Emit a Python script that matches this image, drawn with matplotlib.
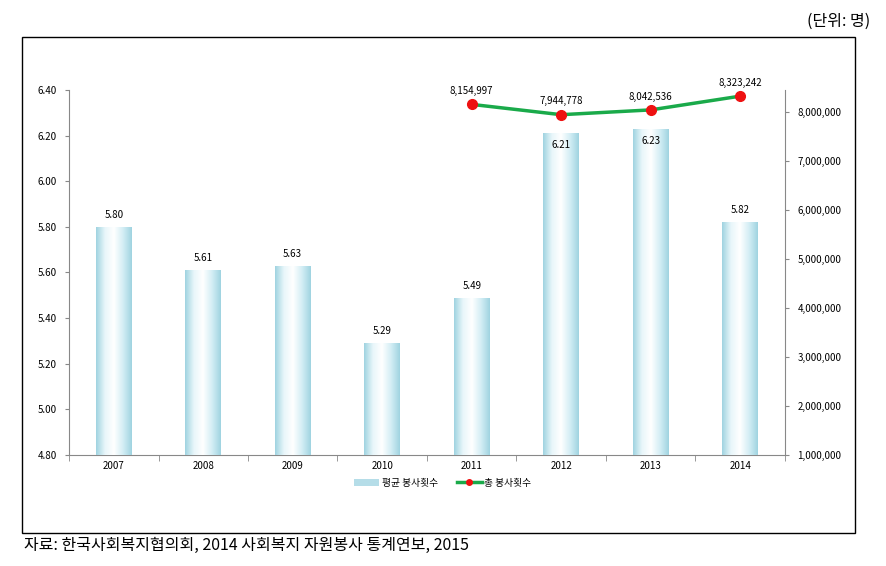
import numpy as np
import matplotlib.pyplot as plt
from matplotlib.patches import Rectangle
from matplotlib.lines import Line2D
from matplotlib.colors import LinearSegmentedColormap

plt.rcParams['font.family'] = ['Noto Sans CJK KR', 'DejaVu Sans']

years = ['2007', '2008', '2009', '2010', '2011', '2012', '2013', '2014']
avg_counts = [5.80, 5.61, 5.63, 5.29, 5.49, 6.21, 6.23, 5.82]
line_years = ['2011', '2012', '2013', '2014']
total_counts = [8154997, 7944778, 8042536, 8323242]

fig = plt.figure(figsize=(8.86, 5.66), dpi=100)

# outer frame
fig.patches.append(Rectangle((0.0248, 0.0583), 0.94, 0.876, transform=fig.transFigure,
                             fill=False, edgecolor='black', linewidth=1.0))
fig.text(0.982, 0.962, '(단위: 명)', ha='right', va='center', fontsize=11.5)
fig.text(0.027, 0.037, '자료: 한국사회복지협의회, 2014 사회복지 자원봉사 통계연보, 2015',
         ha='left', va='center', fontsize=11.5)

ax = fig.add_axes([0.0779, 0.1961, 0.808, 0.645])
x = np.arange(len(years))
bars = ax.bar(x, [v - 4.8 for v in avg_counts], bottom=4.8, width=0.4,
              color='#b5dde8', edgecolor='none', zorder=2)

# horizontal gradient inside each bar
cmap = LinearSegmentedColormap.from_list('barg', ['#9fd3e0', '#e8f6fa', '#ffffff', '#d4eef5', '#9fd3e0'])
grad = np.linspace(0, 1, 256).reshape(1, -1)
for b in bars:
    im = ax.imshow(grad, cmap=cmap, aspect='auto', zorder=3,
                   extent=[b.get_x(), b.get_x() + b.get_width(), b.get_y(), b.get_y() + b.get_height()])
    im.set_clip_path(b)

for xi, v in zip(x, avg_counts):
    if v > 6.1:
        ax.text(xi, v - 0.03, f'{v:.2f}', ha='center', va='top', fontsize=7, zorder=5)
    else:
        ax.text(xi, v + 0.03, f'{v:.2f}', ha='center', va='bottom', fontsize=7, zorder=5)

ax.set_xlim(-0.5, 7.5)
ax.set_ylim(4.8, 6.4)
ax.set_yticks(np.arange(4.8, 6.41, 0.2))
ax.set_yticklabels([f'{t:.2f}' for t in np.arange(4.8, 6.41, 0.2)], fontsize=7)
ax.set_xticks(x)
ax.set_xticklabels(years, fontsize=7)
ax.set_xticks(np.arange(-0.5, 8, 1), minor=True)
ax.tick_params(axis='x', which='major', length=0, pad=4)
ax.tick_params(axis='x', which='minor', length=4, direction='out', color='#888888')
ax.tick_params(axis='y', length=3, color='#888888', pad=6)
for s in ['top', 'right']:
    ax.spines[s].set_visible(False)
for s in ['left', 'bottom']:
    ax.spines[s].set_color('#888888')

ax2 = ax.twinx()
lx = [years.index(y) for y in line_years]
ax2.plot(lx, total_counts, color='#1aaa4a', linewidth=2.5, zorder=4)
ax2.plot(lx, total_counts, 'o', color='#ee1111', markersize=7, zorder=5)
for xi, v in zip(lx, total_counts):
    ax2.text(xi, v + 170000, f'{v:,}', ha='center', va='bottom', fontsize=7)
ax2.set_ylim(1000000, 8450000)
ax2.set_yticks(np.arange(1000000, 8000001, 1000000))
ax2.set_yticklabels([f'{t:,}' for t in range(1000000, 8000001, 1000000)], fontsize=7)
ax2.tick_params(axis='y', length=3, color='#888888', pad=6)
for s in ['top', 'left', 'bottom']:
    ax2.spines[s].set_visible(False)
ax2.spines['right'].set_color('#888888')

handles = [Rectangle((0, 0), 1, 1, facecolor='#b5dde8', edgecolor='none'),
           Line2D([0], [0], color='#1aaa4a', linewidth=2.5, marker='o',
                  markerfacecolor='#ee1111', markeredgecolor='#ee1111', markersize=4)]
fig.legend(handles, ['평균 봉사횟수', '총 봉사횟수'], loc='center', ncol=2,
           bbox_to_anchor=(0.5, 0.147), frameon=False, fontsize=7,
           handlelength=2.5, handletextpad=0.3, columnspacing=2.0)

plt.savefig('out.png', dpi=100)
